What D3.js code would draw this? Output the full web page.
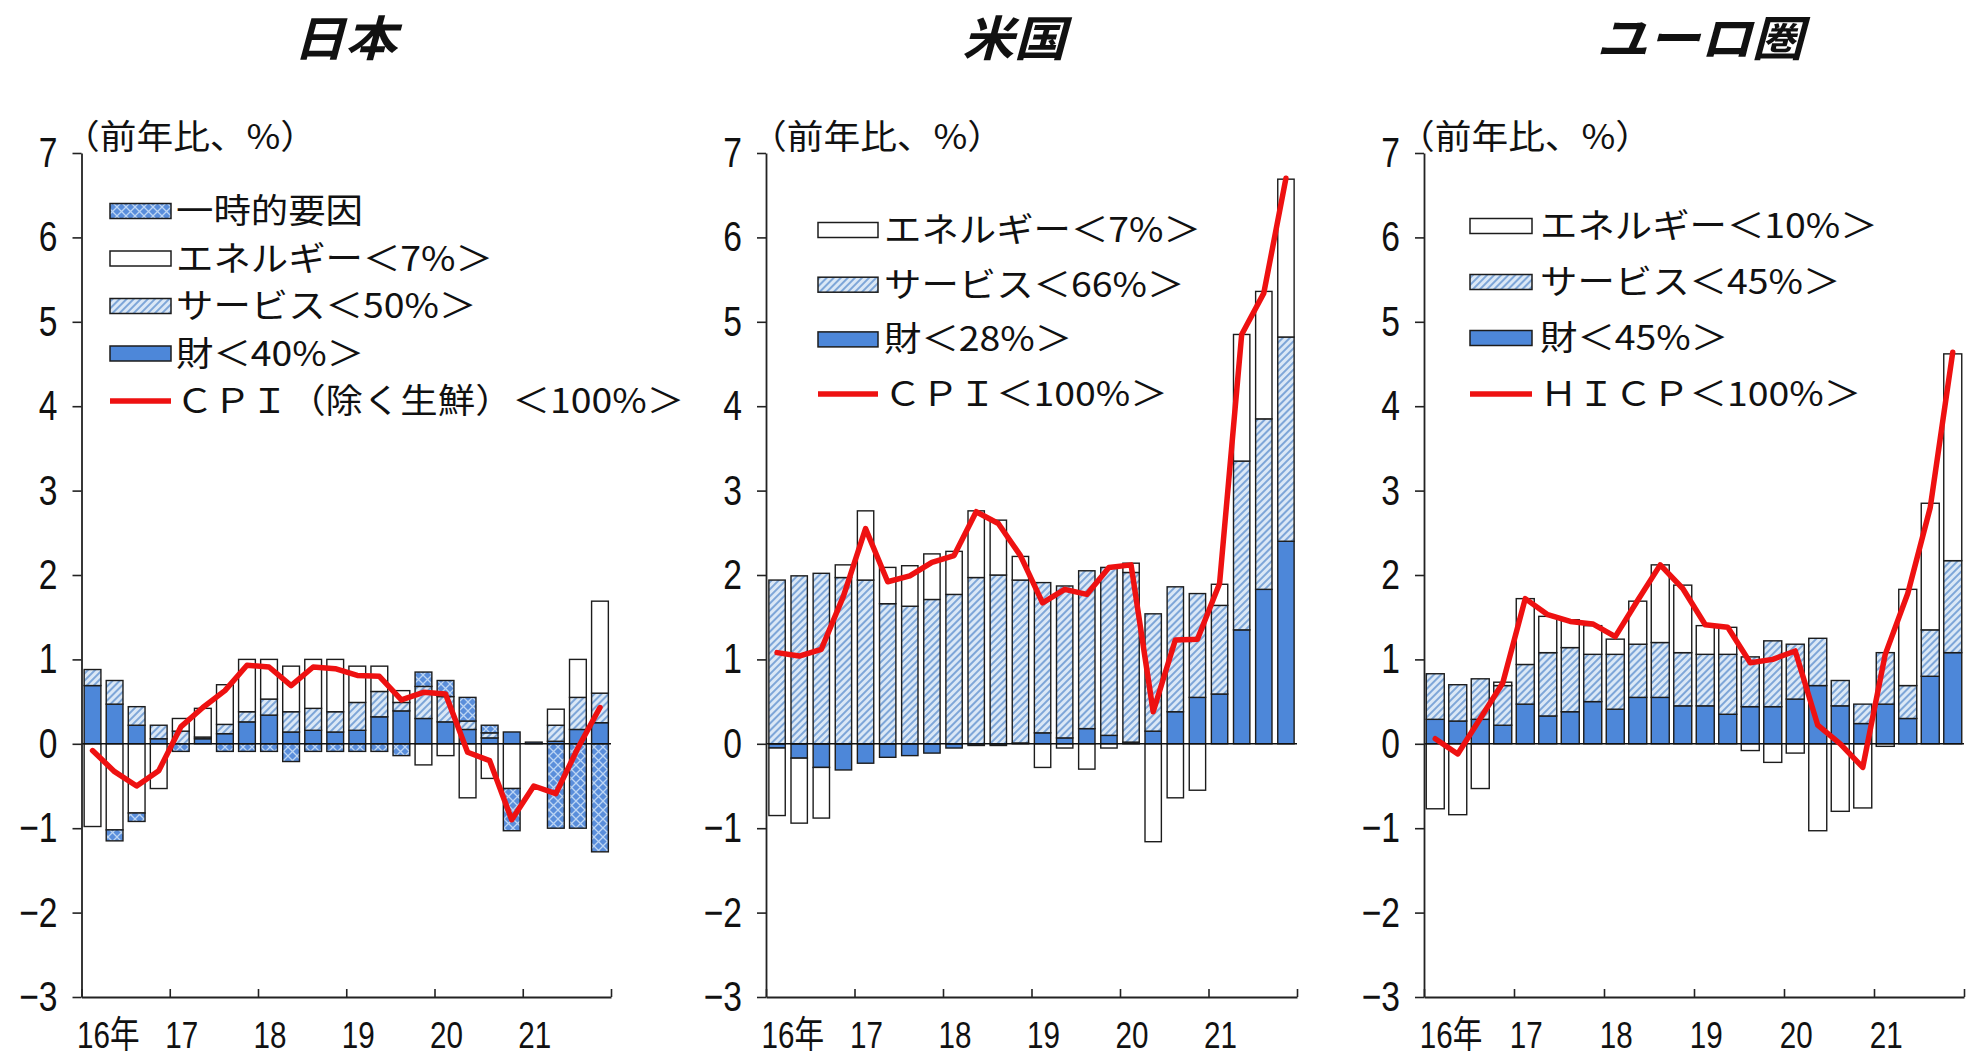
<!DOCTYPE html>
<html><head><meta charset="utf-8">
<script src="https://cdn.jsdelivr.net/npm/d3@7"></script>
<style>
body{margin:0;background:#fff;}
svg{display:block;}
</style></head><body>
<svg id="chart" width="1967" height="1061"></svg>
<script>
// ---------------- data ----------------
const categories = ["2016Q1","2016Q2","2016Q3","2016Q4","2017Q1","2017Q2","2017Q3","2017Q4",
  "2018Q1","2018Q2","2018Q3","2018Q4","2019Q1","2019Q2","2019Q3","2019Q4",
  "2020Q1","2020Q2","2020Q3","2020Q4","2021Q1","2021Q2","2021Q3","2021Q4"];
const yearTickLabels = ["16年","17","18","19","20","21",""];
const yTickValues = [-3,-2,-1,0,1,2,3,4,5,6,7];

// Japan
const jpGoods    = [0.69,0.47,0.22,0.06,0.00,0.06,0.12,0.26,0.34,0.14,0.16,0.14,0.16,0.32,0.39,0.30,0.26,0.17,0.07,0.14,0.02,0.03,0.17,0.25];
const jpServices = [0.19,0.28,0.22,0.16,0.15,0.02,0.11,0.12,0.19,0.24,0.26,0.24,0.33,0.30,0.10,0.38,0.30,0.10,0.06,0.00,0.00,0.19,0.38,0.35];
const jpEnergy   = [-0.98,-1.02,-0.82,-0.53,0.15,0.34,0.47,0.62,0.47,0.54,0.58,0.62,0.43,0.30,0.14,-0.25,-0.14,-0.64,-0.41,-0.53,0.00,0.19,0.45,1.09];
const jpTemp     = [0.00,-0.13,-0.10,0.00,-0.09,0.00,-0.09,-0.09,-0.09,-0.21,-0.09,-0.09,-0.09,-0.09,-0.14,0.17,0.19,0.28,0.09,-0.50,0.00,-1.00,-1.00,-1.28];
const jpCPI      = [-0.08,-0.33,-0.50,-0.32,0.20,0.43,0.63,0.93,0.91,0.69,0.91,0.89,0.81,0.80,0.52,0.61,0.59,-0.10,-0.20,-0.90,-0.50,-0.59,-0.05,0.43];
const jpLegend   = ["一時的要因","エネルギー＜7%＞","サービス＜50%＞","財＜40%＞","ＣＰＩ（除く生鮮）＜100%＞"];

// United States
const usGoods    = [-0.05,-0.17,-0.28,-0.31,-0.23,-0.16,-0.14,-0.11,-0.05,-0.02,-0.02,0.01,0.13,0.07,0.18,0.10,0.02,0.15,0.38,0.55,0.59,1.35,1.83,2.40];
const usServices = [1.94,1.99,2.02,1.97,1.94,1.66,1.63,1.71,1.77,1.97,2.00,1.93,1.78,1.80,1.87,1.99,2.01,1.39,1.48,1.23,1.05,2.00,2.02,2.42];
const usEnergy   = [-0.80,-0.77,-0.60,0.15,0.82,0.43,0.48,0.54,0.51,0.79,0.65,0.28,-0.28,-0.05,-0.30,-0.05,0.11,-1.16,-0.64,-0.55,0.25,1.50,1.51,1.87];
const usCPI      = [1.08,1.04,1.12,1.75,2.55,1.92,1.99,2.15,2.23,2.75,2.61,2.23,1.67,1.83,1.77,2.09,2.12,0.38,1.23,1.24,1.90,4.85,5.34,6.70];
const usLegend   = ["エネルギー＜7%＞","サービス＜66%＞","財＜28%＞","ＣＰＩ＜100%＞"];

// Euro area
const euGoods    = [0.29,0.27,0.29,0.22,0.47,0.33,0.38,0.50,0.41,0.55,0.55,0.45,0.45,0.35,0.44,0.44,0.53,0.69,0.45,0.24,0.47,0.30,0.80,1.08];
const euServices = [0.54,0.43,0.48,0.47,0.47,0.75,0.76,0.56,0.65,0.63,0.65,0.63,0.61,0.71,0.59,0.78,0.65,0.56,0.30,0.23,0.61,0.39,0.55,1.09];
const euEnergy   = [-0.77,-0.84,-0.53,0.04,0.78,0.43,0.33,0.34,0.18,0.51,0.92,0.80,0.34,0.32,-0.08,-0.22,-0.11,-1.03,-0.80,-0.76,-0.03,1.14,1.50,2.45];
const euHICP     = [0.06,-0.12,0.30,0.72,1.72,1.53,1.45,1.42,1.27,1.70,2.12,1.84,1.41,1.38,0.96,1.00,1.10,0.22,0.00,-0.28,1.06,1.78,2.80,4.64];
const euLegend   = ["エネルギー＜10%＞","サービス＜45%＞","財＜45%＞","ＨＩＣＰ＜100%＞"];

const titles = ["日本","米国","ユーロ圏"];
const yAxisLabel = "（前年比、%）";

// ---------------- styles ----------------
const FILL = {goods:"#4d87d9", services:"url(#hatch)", energy:"#ffffff", temp:"url(#cross)"};
const CJK = "'Noto Sans CJK JP', sans-serif";
const NUM = "'Liberation Sans', 'Noto Sans CJK JP', sans-serif";

const svg = d3.select("#chart");
const defs = svg.append("defs");
const ph = defs.append("pattern").attr("id","hatch").attr("patternUnits","userSpaceOnUse")
  .attr("width",5).attr("height",5).attr("patternTransform","rotate(45)");
ph.append("rect").attr("width",5).attr("height",5).attr("fill","#dbe8f6");
ph.append("line").attr("x1",1).attr("y1",0).attr("x2",1).attr("y2",5).attr("stroke","#5f90cf").attr("stroke-width",1.5);
const pc = defs.append("pattern").attr("id","cross").attr("patternUnits","userSpaceOnUse")
  .attr("width",9).attr("height",9);
pc.append("rect").attr("width",9).attr("height",9).attr("fill","#5a8edb");
pc.append("path").attr("d","M0,0L9,9M9,0L0,9").attr("stroke","#bcd5f3").attr("stroke-width",1.3);

const panels = [
  {title:titles[0], titleX:345, x0:81.5, x1:611, pad:0.24, ylabelX:63,
   legX:110, legW:61, textX:176, legY:211, legDy:47.5,
   series:[{key:"goods",v:jpGoods},{key:"services",v:jpServices},{key:"energy",v:jpEnergy},{key:"temp",v:jpTemp}],
   line:jpCPI, legend:jpLegend, legendKeys:["temp","energy","services","goods","line"]},
  {title:titles[1], titleX:1014, x0:766, x1:1297, pad:0.26, ylabelX:750,
   legX:818, legW:60, textX:884, legY:230, legDy:54.7,
   series:[{key:"goods",v:usGoods},{key:"services",v:usServices},{key:"energy",v:usEnergy}],
   line:usCPI, legend:usLegend, legendKeys:["energy","services","goods","line"]},
  {title:titles[2], titleX:1700, x0:1424, x1:1964, pad:0.2, ylabelX:1398,
   legX:1470, legW:62, textX:1540, legY:226, legDy:56,
   series:[{key:"goods",v:euGoods},{key:"services",v:euServices},{key:"energy",v:euEnergy}],
   line:euHICP, legend:euLegend, legendKeys:["energy","services","goods","line"]}
];

const y = d3.scaleLinear().domain([-3,7]).range([997,153]);
const SX = 0.8; // horizontal condensing of numeric labels

panels.forEach(p => {
  const g = svg.append("g");
  const xl = d3.scaleLinear().domain([0,categories.length]).range([p.x0,p.x1]);
  const xb = d3.scaleBand().domain(categories).range([p.x0,p.x1]).paddingInner(p.pad).paddingOuter(p.pad/2);

  const rows = categories.map((c,i) => {
    const o = {cat:c}; p.series.forEach(s => o[s.key] = s.v[i]); return o;
  });
  const layers = d3.stack().keys(p.series.map(s=>s.key)).offset(d3.stackOffsetDiverging)(rows);

  // bars
  layers.forEach(layer => {
    g.append("g").selectAll("rect")
      .data(layer.filter(d => Math.abs(d[1]-d[0]) > 1e-9))
      .join("rect")
      .attr("x", d => xb(d.data.cat))
      .attr("width", xb.bandwidth())
      .attr("y", d => y(Math.max(d[0],d[1])))
      .attr("height", d => Math.abs(y(d[0]) - y(d[1])))
      .attr("fill", FILL[layer.key])
      .attr("stroke", "#1c1c1c").attr("stroke-width", 1.4);
  });

  // zero line
  g.append("line").attr("x1",p.x0).attr("x2",p.x1).attr("y1",y(0)).attr("y2",y(0))
    .attr("stroke","#111").attr("stroke-width",1.6);

  // axes
  const ya = g.append("g").attr("transform",`translate(${p.x0},0)`)
    .call(d3.axisLeft(y).tickValues(yTickValues).tickSizeInner(9).tickSizeOuter(0).tickFormat(d3.format("d")));
  ya.selectAll("text").attr("font-family",NUM).attr("font-size",42).attr("fill","#111")
    .attr("x", -24/SX).attr("transform",`scale(${SX},1)`);
  const xa = g.append("g").attr("transform",`translate(0,${y(-3)})`)
    .call(d3.axisBottom(xl).tickValues([0,4,8,12,16,20,24]).tickSizeInner(-8).tickSizeOuter(0)
      .tickFormat((d,i) => yearTickLabels[i]));
  const half = xb.step()/2;
  xa.selectAll("text").attr("font-family",NUM).attr("font-size",37).attr("fill","#111")
    .attr("text-anchor","start").attr("dy",null).attr("y",51)
    .attr("x", (half-16)/SX).attr("transform",`scale(${SX},1)`);
  [ya,xa].forEach(a => {
    a.selectAll("path,line").attr("stroke","#222").attr("stroke-width",1.6);
    a.select(".domain").attr("stroke-width",1.8);
  });

  // line
  const ln = d3.line().x((d,i) => xb(categories[i]) + xb.bandwidth()/2).y(d => y(d));
  g.append("path").datum(p.line).attr("d",ln).attr("fill","none")
    .attr("stroke","#ee1111").attr("stroke-width",5.5)
    .attr("stroke-linejoin","round").attr("stroke-linecap","round");

  // title
  svg.append("g").attr("transform",`translate(${p.titleX},56) scale(1.08,1)`)
    .append("text").attr("text-anchor","middle")
    .attr("font-family",CJK).attr("font-size",48).attr("font-weight","bold").attr("font-style","italic")
    .attr("fill","#111").text(p.title);

  // y-axis unit label
  svg.append("g").attr("transform",`translate(${p.ylabelX},149) scale(1.08,1)`)
    .append("text").attr("font-family",CJK).attr("font-size",34).attr("fill","#111").text(yAxisLabel);

  // legend
  p.legendKeys.forEach((k,i) => {
    const cy = p.legY + i*p.legDy;
    if (k === "line") {
      svg.append("line").attr("x1",p.legX).attr("x2",p.legX+p.legW).attr("y1",cy).attr("y2",cy)
        .attr("stroke","#ee1111").attr("stroke-width",5.5);
    } else {
      svg.append("rect").attr("x",p.legX).attr("y",cy-7.5).attr("width",p.legW).attr("height",15)
        .attr("fill",FILL[k]).attr("stroke","#1c1c1c").attr("stroke-width",1.5);
    }
    svg.append("g").attr("transform",`translate(${p.textX},${cy+12}) scale(1.1,1)`)
      .append("text").attr("font-family",CJK).attr("font-size",34).attr("fill","#111").text(p.legend[i]);
  });
});
</script>
</body></html>
